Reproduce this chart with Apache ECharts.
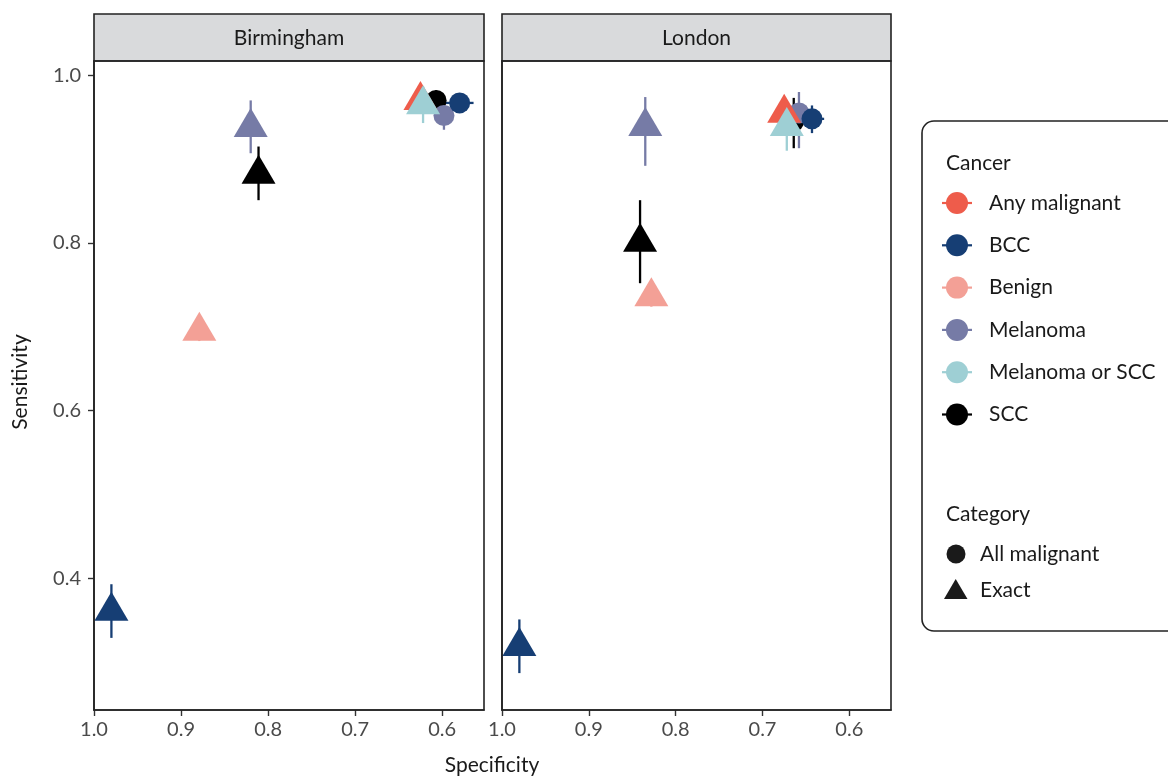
<!DOCTYPE html>
<html>
<head>
<meta charset="utf-8">
<script src="https://cdn.jsdelivr.net/npm/echarts@6/dist/echarts.min.js"></script>
<style>
html,body{margin:0;padding:0;background:#fff;}
#chart{width:1168px;height:776px;}
</style>
</head>
<body>
<div id="chart"></div>
<script>
// ---- Data ----
const cancerNames = ['Any malignant', 'BCC', 'Benign', 'Melanoma', 'Melanoma or SCC', 'SCC'];
const cancerColors = ['#EE5C4B', '#163E74', '#F3A096', '#767BA6', '#9ECFD4', '#000000'];
const categoryNames = ['All malignant', 'Exact'];
const panelNames = ['Birmingham', 'London'];
const xTicks = [0.6, 0.7, 0.8, 0.9, 1.0];
const yTicks = [0.4, 0.6, 0.8, 1.0];

// Birmingham (draw order)
const bhamCancer   = ['SCC', 'Melanoma', 'BCC', 'Benign', 'BCC', 'SCC', 'Melanoma', 'Any malignant', 'Melanoma or SCC'];
const bhamCategory = ['All malignant', 'All malignant', 'All malignant', 'Exact', 'Exact', 'Exact', 'Exact', 'Exact', 'Exact'];
const bhamSpec     = [0.607, 0.598, 0.580, 0.879, 0.980, 0.811, 0.820, 0.625, 0.622];
const bhamSens     = [0.970, 0.952, 0.967, 0.695, 0.361, 0.882, 0.938, 0.970, 0.965];
const bhamSensLo   = [0.958, 0.935, 0.958, 0.683, 0.329, 0.851, 0.907, 0.955, 0.943];
const bhamSensHi   = [0.982, 0.970, 0.976, 0.707, 0.393, 0.915, 0.970, 0.985, 0.987];
const bhamSpecLo   = [null, null, 0.564, null, null, null, null, null, null];
const bhamSpecHi   = [null, null, 0.597, null, null, null, null, null, null];

// London (draw order)
const lonCancer   = ['SCC', 'Melanoma', 'BCC', 'Benign', 'BCC', 'SCC', 'Melanoma', 'Any malignant', 'Melanoma or SCC'];
const lonCategory = ['All malignant', 'All malignant', 'All malignant', 'Exact', 'Exact', 'Exact', 'Exact', 'Exact', 'Exact'];
const lonSpec     = [0.664, 0.658, 0.643, 0.828, 0.980, 0.841, 0.835, 0.675, 0.672];
const lonSens     = [0.945, 0.955, 0.948, 0.736, 0.319, 0.801, 0.939, 0.955, 0.939];
const lonSensLo   = [0.913, 0.913, 0.931, 0.724, 0.287, 0.752, 0.892, 0.940, 0.910];
const lonSensHi   = [0.973, 0.980, 0.964, 0.748, 0.351, 0.851, 0.974, 0.970, 0.968];
const lonSpecLo   = [null, null, 0.629, null, null, null, null, null, null];
const lonSpecHi   = [null, null, 0.656, null, null, null, null, null, null];

// ---- Build ----
const FONT = 'Lato, "Noto Sans", sans-serif';
const TXT = 21;
const panels = [
  {cancer: bhamCancer, cat: bhamCategory, spec: bhamSpec, sens: bhamSens, sLo: bhamSensLo, sHi: bhamSensHi, pLo: bhamSpecLo, pHi: bhamSpecHi},
  {cancer: lonCancer, cat: lonCategory, spec: lonSpec, sens: lonSens, sLo: lonSensLo, sHi: lonSensHi, pLo: lonSpecLo, pHi: lonSpecHi}
];
const grids = [
  {left: 94, top: 61, width: 390, height: 649},
  {left: 502, top: 61, width: 389, height: 649}
];

const TRI_W = 34, TRI_H = 29, CIRC = 21;

const xAxes = [], yAxes = [], series = [];
panels.forEach((p, gi) => {
  xAxes.push({
    gridIndex: gi, type: 'value', inverse: true, min: 0.552, max: 1.0,
    axisLine: {show: true, onZero: false, lineStyle: {color: '#222', width: 1.6}},
    axisTick: {show: true, customValues: xTicks, length: 6, lineStyle: {color: '#333', width: 1.4}},
    axisLabel: {show: true, customValues: xTicks, formatter: v => v.toFixed(1), fontFamily: FONT, fontSize: 20, color: '#4a4a4a', margin: 10},
    splitLine: {show: false}
  });
  yAxes.push({
    gridIndex: gi, type: 'value', min: 0.243, max: 1.017,
    axisLine: {show: true, onZero: false, lineStyle: {color: '#222', width: 1.6}},
    axisTick: {show: gi === 0, customValues: yTicks, length: 6, lineStyle: {color: '#333', width: 1.4}},
    axisLabel: {show: gi === 0, customValues: yTicks, formatter: v => v.toFixed(1), fontFamily: FONT, fontSize: 20, color: '#4a4a4a', margin: 13},
    splitLine: {show: false}
  });
  const segs = [];
  p.spec.forEach((x, i) => {
    const ci = cancerNames.indexOf(p.cancer[i]);
    if (p.sLo[i] != null) segs.push([x, p.sLo[i], x, p.sHi[i], ci]);
    if (p.pLo[i] != null) segs.push([p.pLo[i], p.sens[i], p.pHi[i], p.sens[i], ci]);
  });
  series.push({
    type: 'custom', xAxisIndex: gi, yAxisIndex: gi, z: 2, silent: true,
    encode: {x: [0, 2], y: [1, 3]},
    data: segs,
    renderItem: (params, api) => {
      const a = api.coord([api.value(0), api.value(1)]);
      const b = api.coord([api.value(2), api.value(3)]);
      return {type: 'line', shape: {x1: a[0], y1: a[1], x2: b[0], y2: b[1]},
        style: {stroke: cancerColors[api.value(4)], lineWidth: 2.3}};
    }
  });
  series.push({
    type: 'scatter', xAxisIndex: gi, yAxisIndex: gi, z: 3, silent: true,
    data: p.spec.map((x, i) => {
      const ci = cancerNames.indexOf(p.cancer[i]);
      const tri = p.cat[i] === 'Exact';
      return {
        value: [x, p.sens[i]],
        symbol: tri ? 'triangle' : 'circle',
        symbolSize: tri ? [TRI_W, TRI_H] : CIRC,
        symbolOffset: tri ? [0, -TRI_H / 6] : [0, 0],
        itemStyle: {color: cancerColors[ci], opacity: 1}
      };
    })
  });
});

// graphics: strips, titles, legend
const graphic = [];
grids.forEach((g, gi) => {
  graphic.push({type: 'rect', shape: {x: g.left, y: 14, width: g.width, height: 47},
    style: {fill: '#D9DADC', stroke: '#222', lineWidth: 1.6}, z: 10});
  graphic.push({type: 'text', x: g.left + g.width / 2, y: 38,
    style: {text: panelNames[gi], fontFamily: FONT, fontSize: TXT, fill: '#1a1a1a', align: 'center', verticalAlign: 'middle'}, z: 11});
  graphic.push({type: 'rect', shape: {x: g.left, y: g.top, width: g.width, height: g.height},
    style: {fill: 'none', stroke: '#222', lineWidth: 1.6}, z: 10, silent: true});
});
graphic.push({type: 'text', x: 492, y: 765,
  style: {text: 'Specificity', fontFamily: FONT, fontSize: TXT, fill: '#1a1a1a', align: 'center', verticalAlign: 'middle'}});
graphic.push({type: 'text', x: 20, y: 382, rotation: Math.PI / 2,
  style: {text: 'Sensitivity', fontFamily: FONT, fontSize: TXT, fill: '#1a1a1a', align: 'center', verticalAlign: 'middle'}});

// legend box
graphic.push({type: 'rect', shape: {x: 922, y: 121, width: 280, height: 510, r: 12},
  style: {fill: '#fff', stroke: '#222', lineWidth: 1.6}});
graphic.push({type: 'text', x: 946, y: 163,
  style: {text: 'Cancer', fontFamily: FONT, fontSize: TXT, fill: '#1a1a1a', verticalAlign: 'middle'}});
cancerNames.forEach((name, i) => {
  const y = 203 + i * 42.3;
  graphic.push({type: 'line', shape: {x1: 942, y1: y, x2: 972, y2: y}, style: {stroke: cancerColors[i], lineWidth: 2.2}});
  graphic.push({type: 'circle', shape: {cx: 957, cy: y, r: 11}, style: {fill: cancerColors[i]}});
  graphic.push({type: 'text', x: 989, y: y,
    style: {text: name, fontFamily: FONT, fontSize: TXT, fill: '#1a1a1a', verticalAlign: 'middle'}});
});
graphic.push({type: 'text', x: 946, y: 514,
  style: {text: 'Category', fontFamily: FONT, fontSize: TXT, fill: '#1a1a1a', verticalAlign: 'middle'}});
graphic.push({type: 'circle', shape: {cx: 956, cy: 554, r: 9.5}, style: {fill: '#1a1a1a'}});
graphic.push({type: 'polygon', shape: {points: [[944, 599], [967.5, 599], [955.7, 579]]}, style: {fill: '#1a1a1a'}});
graphic.push({type: 'text', x: 980, y: 554,
  style: {text: categoryNames[0], fontFamily: FONT, fontSize: TXT, fill: '#1a1a1a', verticalAlign: 'middle'}});
graphic.push({type: 'text', x: 980, y: 590,
  style: {text: categoryNames[1], fontFamily: FONT, fontSize: TXT, fill: '#1a1a1a', verticalAlign: 'middle'}});

const chart = echarts.init(document.getElementById('chart'), null, {renderer: 'canvas'});
chart.setOption({
  animation: false,
  backgroundColor: '#fff',
  grid: grids.map(g => Object.assign({show: false}, g)),
  xAxis: xAxes,
  yAxis: yAxes,
  series: series,
  graphic: graphic
});
</script>
</body>
</html>
